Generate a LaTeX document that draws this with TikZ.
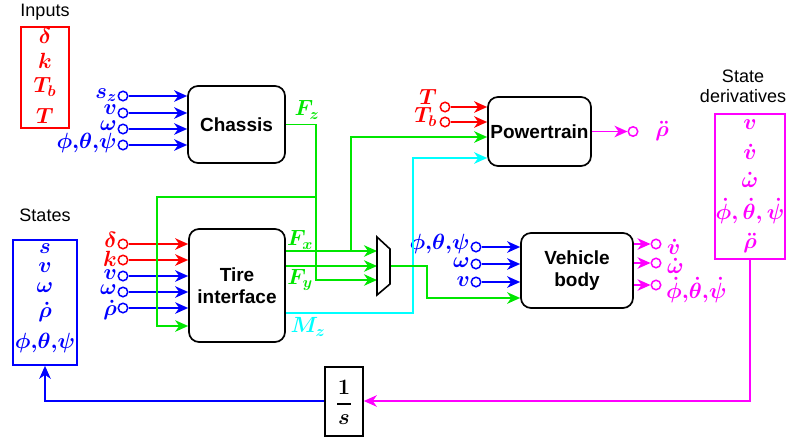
\RequirePackage{fix-cm}
\documentclass[tikz,border=0pt]{standalone}
\usepackage{amsmath}
\usepackage[no-math]{fontspec}
\setmainfont{Liberation Sans}
\usetikzlibrary{arrows.meta}
\definecolor{colR}{RGB}{255,0,0}
\definecolor{colB}{RGB}{0,0,255}
\definecolor{colG}{RGB}{0,230,0}
\definecolor{colC}{RGB}{0,255,255}
\definecolor{colM}{RGB}{255,0,255}
\newcommand{\bsym}[1]{\boldsymbol{#1}}
\begin{document}
\begin{tikzpicture}[x=1pt,y=-1pt,
  blk/.style={draw=black, line width=1.7pt, rounded corners=10pt, font=\bfseries\fontsize{19}{22}\selectfont, align=center, inner sep=0pt},
  port/.style={circle, draw, line width=1.5pt, inner sep=0pt, minimum size=9.5pt, fill=white},
  ml/.style={inner sep=0pt, font=\fontsize{22}{24}\selectfont},
  arr/.style={-{Stealth[length=13pt,width=11.5pt,inset=4pt]}, line width=1.8pt},
  frame/.style={draw, line width=1.6pt, inner sep=0pt},
  ttl/.style={font=\fontsize{18}{21}\selectfont, align=center, inner sep=0pt}]
\useasboundingbox (0,0) rectangle (791,439);

% blocks
\node[blk, minimum width=97pt, minimum height=77pt] (ch) at (236.5,124.5) {Chassis};
\node[blk, minimum width=96pt, minimum height=113pt] (ti) at (237,285.5) {Tire\\interface};
\node[blk, minimum width=103pt, minimum height=69pt] (pt) at (539.5,131.5) {Powertrain};
\node[blk, minimum width=112pt, minimum height=75pt] (vb) at (577,270.5) {Vehicle\\body};
\node[frame, draw=black, minimum width=38pt, minimum height=69pt] (inv) at (344,401.5) {};
\node[ml] (inv1) at (344,387.5) {$\bsym{1}$};
\node[ml] (invs) at (344,420) {$\bsym{s}$};
\draw[line width=1.4pt] ([xshift=-7pt]inv.center |- 0,404) -- ([xshift=7pt]inv.center |- 0,404);

% Inputs box
\node[ttl] (tin) at (45,12) {Inputs};
\node[frame, draw=colR, minimum width=48pt, minimum height=101pt] (inb) at (45,77.5) {};
\node[ml, text=colR] (in1) at (45,36) {$\bsym{\delta}$};
\node[ml, text=colR] (in2) at (45,61) {$\bsym{k}$};
\node[ml, text=colR] (in3) at (45,87) {$\bsym{T_b}$};
\node[ml, text=colR] (in4) at (45,116) {$\bsym{T}$};

% States box
\node[ttl] (tst) at (45,215) {States};
\node[frame, draw=colB, minimum width=64pt, minimum height=125pt] (st) at (45,302.5) {};
\node[ml, text=colB] (st1) at (45,249) {$\bsym{s}$};
\node[ml, text=colB] (st2) at (45,268) {$\bsym{v}$};
\node[ml, text=colB] (st3) at (45,288) {$\bsym{\omega}$};
\node[ml, text=colB] (st4) at (45,312) {$\bsym{\dot\rho}$};
\node[ml, text=colB] (st5) at (45,343) {$\bsym{\phi{,}\theta{,}\psi}$};

% State derivatives box
\node[ttl] (tsd) at (743,86) {State\\[-1pt]derivatives};
\node[frame, draw=colM, minimum width=70pt, minimum height=145pt] (sd) at (750,186.5) {};
\node[ml, text=colM] (sd1) at (750,125) {$\bsym{v}$};
\node[ml, text=colM] (sd2) at (750,152) {$\bsym{\dot v}$};
\node[ml, text=colM] (sd3) at (750,180) {$\bsym{\dot\omega}$};
\node[ml, text=colM] (sd4) at (750,211) {$\bsym{\dot\phi,\dot\theta,\dot\psi}$};
\node[ml, text=colM] (sd5) at (750,243) {$\bsym{\ddot\rho}$};

% Chassis inputs
\foreach \n/\y in {cs/96, cv/113, cw/129, ca/145}{
  \node[port, draw=colB] (\n) at (123,\y) {};
  \draw[arr, colB] (\n.east) -- (\n.east -| ch.west);
}
\node[ml, text=colB, anchor=east] (lcs) at (117,95) {$\bsym{s_z}$};
\node[ml, text=colB, anchor=east] (lcv) at (117,110) {$\bsym{v}$};
\node[ml, text=colB, anchor=east] (lcw) at (117,126) {$\bsym{\omega}$};
\node[ml, text=colB, anchor=east] (lca) at (117,143) {$\bsym{\phi{,}\theta{,}\psi}$};

% Tire inputs
\foreach \n/\y/\c in {td/244/colR, tk/260/colR, tv/276/colB, tw/292/colB, tr/308/colB}{
  \node[port, draw=\c] (\n) at (123,\y) {};
  \draw[arr, \c] (\n.east) -- (\n.east -| ti.west);
}
\node[ml, text=colR, anchor=east] (ltd) at (117,240) {$\bsym{\delta}$};
\node[ml, text=colR, anchor=east] (ltk) at (117,259) {$\bsym{k}$};
\node[ml, text=colB, anchor=east] (ltv) at (117,275) {$\bsym{v}$};
\node[ml, text=colB, anchor=east] (ltw) at (117,290) {$\bsym{\omega}$};
\node[ml, text=colB, anchor=east] (ltr) at (117,310) {$\bsym{\dot\rho}$};

% Powertrain inputs
\foreach \n/\y in {pT/107, pb/122}{
  \node[port, draw=colR] (\n) at (445,\y) {};
  \draw[arr, colR] (\n.east) -- (\n.east -| pt.west);
}
\node[ml, text=colR, anchor=east] (lpT) at (437,97) {$\bsym{T}$};
\node[ml, text=colR, anchor=east] (lpb) at (437,117) {$\bsym{T_b}$};

% Powertrain output
\node[port, draw=colM] (po) at (633,131.5) {};
\draw[arr, colM] (pt.east) -- (po.west);
\node[ml, text=colM] (lpo) at (662,131) {$\bsym{\ddot\rho}$};

% Vehicle body inputs
\foreach \n/\y in {va/247, vw/264, vv/282}{
  \node[port, draw=colB] (\n) at (476,\y) {};
  \draw[arr, colB] (\n.east) -- (\n.east -| vb.west);
}
\node[ml, text=colB, anchor=east] (lva) at (470,244) {$\bsym{\phi{,}\theta{,}\psi}$};
\node[ml, text=colB, anchor=east] (lvw) at (470,263) {$\bsym{\omega}$};
\node[ml, text=colB, anchor=east] (lvv) at (470,282) {$\bsym{v}$};

% Vehicle body outputs
\foreach \n/\y in {o1/244, o2/263, o3/285}{
  \node[port, draw=colM] (\n) at (656,\y) {};
  \draw[arr, colM] (\n.west -| vb.east) -- (\n.west);
}
\node[ml, text=colM, anchor=west] (lo1) at (667,247) {$\bsym{\dot v}$};
\node[ml, text=colM, anchor=west] (lo2) at (667,266) {$\bsym{\dot\omega}$};
\node[ml, text=colM, anchor=west] (lo3) at (666,290) {$\bsym{\dot\phi{,}\dot\theta{,}\dot\psi}$};

% Mux
\coordinate (mA) at (377,237);
\coordinate (mB) at (390,249);
\coordinate (mC) at (390,284);
\coordinate (mD) at (377,295);
\coordinate (m1) at (377,251);
\coordinate (m2) at (377,266);
\coordinate (m3) at (377,280);
\coordinate (mo) at (390,266);

% green / cyan wiring
\coordinate (fzt) at (316,124.5);
\coordinate (fzb) at (316,197);
\coordinate (tgl) at (157,197);
\coordinate (tgb) at (157,326);
\draw[arr, colG] (ch.east) -- (fzt) -- (fzt |- m3) -- (m3);
\draw[arr, colG] (fzb) -- (tgl) -- (tgb) -- (tgb -| ti.west);
\draw[arr, colG] (m1 -| ti.east) -- (m1);
\draw[arr, colG] (m2 -| ti.east) -- (m2);
\coordinate (fxb) at (351,251);
\coordinate (fxt) at (351,137);
\draw[arr, colG] (fxb) -- (fxt) -- (fxt -| pt.west);
\coordinate (mzb) at (413,313);
\coordinate (mzt) at (413,158);
\draw[arr, colC] (mzb -| ti.east) -- (mzb) -- (mzt) -- (mzt -| pt.west);
\coordinate (mxr) at (427,266);
\coordinate (mxb) at (427,298);
\draw[arr, colG] (mo) -- (mxr) -- (mxb) -- (mxb -| vb.west);
\draw[line width=1.6pt, fill=white] (mA) -- (mB) -- (mC) -- (mD) -- cycle;

\node[ml, text=colG] (lfz) at (307,110) {$\bsym{F_z}$};
\node[ml, text=colG] (lfx) at (300,240) {$\bsym{F_x}$};
\node[ml, text=colG] (lfy) at (300,280) {$\bsym{F_y}$};
\node[ml, text=colC] (lmz) at (308,327) {$\bsym{M_z}$};

% feedback
\coordinate (fbr) at (750,401);
\coordinate (fbl) at (45,401);
\draw[arr, colM] (sd.south) -- (fbr) -- (fbr -| inv.east);
\draw[arr, colB] (fbr -| inv.west) -- (fbl) -- (st.south);
\end{tikzpicture}
\end{document}
